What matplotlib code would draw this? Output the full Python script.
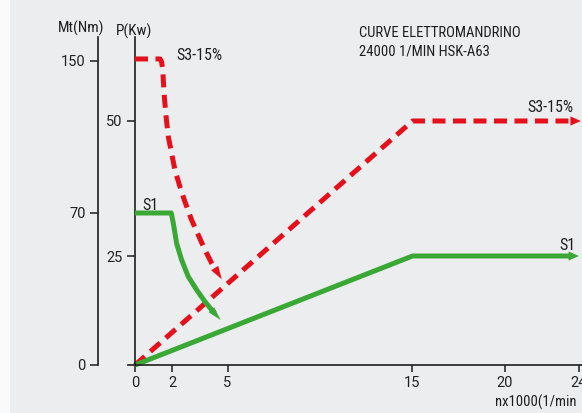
import numpy as np
import matplotlib
matplotlib.use('Agg')
import matplotlib.pyplot as plt
from matplotlib.patches import Rectangle

plt.rcParams['font.family'] = ['Roboto Condensed', 'Archivo Narrow', 'DejaVu Sans']
TICK_FAMILY = ['Roboto', 'Liberation Sans', 'DejaVu Sans']

# ---------------- data ----------------
speed_ticks = [0, 2, 5, 15, 20, 24]
power_ticks = [25, 50]
torque_ticks = [0, 70, 150]

# hand-drawn (non linear) axis graduations: value -> height in px above baseline
power_scale_val = [0, 25, 50, 100]
power_scale_h = [0, 109, 244, 514]
torque_scale_val = [0, 70, 150, 300]
torque_scale_h = [0, 152, 304, 608]

# power curves (kW) vs speed (x1000 1/min)
s3_power_n = [0, 15, 24.1]
s3_power_p = [0, 50, 50]
s1_power_n = [0, 15, 24.0]
s1_power_p = [0, 25, 25]

# torque curves (Nm) vs speed
s3_torque_n = [0, 1.36, 1.44, 1.50, 1.57, 1.68, 1.80, 1.98, 2.16, 2.43, 2.70,
               3.06, 3.42, 3.78, 4.15, 4.69]
s3_torque_m = [151, 151, 149.5, 145.3, 133.0, 120.7, 110.2, 101.4, 92.6, 83.8,
               75.9, 66.8, 59.9, 53.0, 46.8, 39.5]
s1_torque_n = [0, 1.96, 2.07, 2.25, 2.52, 2.88, 3.34, 3.78, 4.23, 4.63]
s1_torque_m = [70, 70, 65.3, 56.0, 48.4, 40.7, 34.5, 29.2, 24.5, 20.7]

RED = '#E5101B'
GREEN = '#3AA835'
AX = '#1E1E1E'
W, H = 582, 413
FS = 10.5
TFS = 10.5


def p_fwd(v):
    return np.interp(v, power_scale_val, power_scale_h)


def p_inv(h):
    return np.interp(h, power_scale_h, power_scale_val)


def m_fwd(v):
    return np.interp(v, torque_scale_val, torque_scale_h)


def m_inv(h):
    return np.interp(h, torque_scale_h, torque_scale_val)


fig = plt.figure(figsize=(W / 100, H / 100), dpi=100)
fig.patch.set_facecolor('#ECEDEF')
fig.patches.append(Rectangle((0, 0), 9.5 / W, 1, transform=fig.transFigure,
                             facecolor='#FAFAFA', edgecolor='none', zorder=-10))

ax = fig.add_axes([128 / W, 48 / H, (583 - 128) / W, 328 / H])
ax.patch.set_visible(False)
ax.set_xlim(-7 / 18.5, (583 - 135) / 18.5)
ax.set_yscale('function', functions=(p_fwd, p_inv))
ax.set_ylim(0, float(p_inv(328)))

ax2 = ax.twinx()
ax2.set_yscale('function', functions=(m_fwd, m_inv))
ax2.set_ylim(0, float(m_inv(328)))

# spines
for s in ['top', 'right']:
    ax.spines[s].set_visible(False)
ax.spines['left'].set_position(('data', 0))
for s in ['top', 'right', 'bottom']:
    ax2.spines[s].set_visible(False)
ax2.spines['left'].set_visible(True)
ax2.spines['left'].set_position(('outward', 30 * 0.72))
for a in (ax, ax2):
    for s in a.spines.values():
        s.set_color(AX)
        s.set_linewidth(1.2)

ax.set_xticks(speed_ticks)
ax.set_xticklabels([str(v) for v in speed_ticks], family=TICK_FAMILY)
ax.set_yticks(power_ticks)
ax.set_yticklabels([str(v) for v in power_ticks], family=TICK_FAMILY)
ax.yaxis.set_minor_locator(matplotlib.ticker.NullLocator())
ax2.set_yticks(torque_ticks)
ax2.set_yticklabels([str(v) for v in torque_ticks], family=TICK_FAMILY)
ax2.yaxis.set_minor_locator(matplotlib.ticker.NullLocator())
ax2.yaxis.set_ticks_position('left')
ax2.yaxis.set_label_position('left')
ax.tick_params(axis='x', direction='out', length=5, width=1.1, color=AX,
               labelsize=TFS, pad=3, labelcolor='#222')
ax.tick_params(axis='y', direction='out', length=6, width=1.1, color=AX,
               labelsize=TFS, pad=3, labelcolor='#222')
ax2.tick_params(axis='y', direction='out', length=6, width=1.1, color=AX,
                labelsize=TFS, pad=3, labelcolor='#222')

LW = 3.6
DASH = (2.6, 1.5)


def arrow_head(a, xs, ys, color, hl, hw, frac):
    x0, y0 = xs[-2], ys[-2]
    x1, y1 = xs[-1], ys[-1]
    xt = x1 - (x1 - x0) * frac
    yt = y1 - (y1 - y0) * frac
    a.annotate('', xy=(x1, y1), xytext=(xt, yt),
               arrowprops=dict(arrowstyle='-|>,head_length=%g,head_width=%g' % (hl, hw),
                               color=color, lw=0, shrinkA=0, shrinkB=0,
                               mutation_scale=10))
    return xt, yt


# power curves
xt, yt = arrow_head(ax, s3_power_n, s3_power_p, RED, 0.75, 0.33, 0.055)
ax.plot(s3_power_n[:-1] + [xt], s3_power_p[:-1] + [yt], color=RED, lw=LW,
        dashes=DASH, dash_joinstyle='round', dash_capstyle='butt')
xt, yt = arrow_head(ax, s1_power_n, s1_power_p, GREEN, 0.75, 0.33, 0.055)
ax.plot(s1_power_n[:-1] + [xt], s1_power_p[:-1] + [yt], color=GREEN, lw=LW,
        solid_joinstyle='round', solid_capstyle='butt')

# torque curves
xt, yt = arrow_head(ax2, s3_torque_n, s3_torque_m, RED, 0.95, 0.3, 0.5)
ax2.plot(s3_torque_n[:-1] + [xt], s3_torque_m[:-1] + [yt], color=RED, lw=LW,
         dashes=DASH, dash_joinstyle='round', dash_capstyle='butt')
xt, yt = arrow_head(ax2, s1_torque_n, s1_torque_m, GREEN, 1.0, 0.27, 0.8)
ax2.plot(s1_torque_n[:-1] + [xt], s1_torque_m[:-1] + [yt], color=GREEN, lw=LW,
         solid_joinstyle='round', solid_capstyle='butt')

for a in (ax, ax2):
    for ln in a.lines:
        ln.set_clip_on(False)


def ftext(x, y, s, **kw):
    fig.text(x / W, 1 - y / H, s, fontsize=kw.pop('fontsize', FS),
             color=kw.pop('color', '#1E1E1E'), **kw)


ftext(81, 28, 'Mt(Nm)', ha='center', va='center', fontsize=11)
ftext(134, 31, 'P(Kw)', ha='center', va='center', fontsize=11)
ftext(176, 55, 'S3-15%', ha='left', va='center', fontsize=11.5)
ftext(142, 205, 'S1', ha='left', va='center', fontsize=11.5)
ftext(574, 108, 'S3-15%', ha='right', va='center', fontsize=11.5)
ftext(576, 245, 'S1', ha='right', va='center', fontsize=11.5)
ftext(359, 33, 'CURVE ELETTROMANDRINO', ha='left', va='center')
ftext(359, 52, '24000 1/MIN HSK-A63', ha='left', va='center')
ftext(495, 402, 'nx1000(1/min', ha='left', va='center', fontsize=10.5)

fig.savefig('out.png', dpi=100, facecolor=fig.get_facecolor())
